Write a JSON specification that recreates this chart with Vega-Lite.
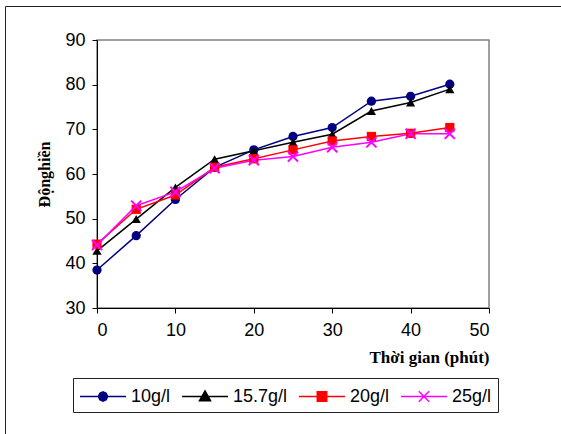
{
  "$schema": "https://vega.github.io/schema/vega-lite/v6.json",
  "width": 392,
  "height": 268,
  "autosize": {"type": "none"},
  "padding": {"left": 97, "top": 40, "right": 72, "bottom": 126},
  "background": "white",
  "data": {
    "values": [
      {"t": 0, "v": 38.5, "s": "10g/l"},
      {"t": 5, "v": 46.2, "s": "10g/l"},
      {"t": 10, "v": 54.3, "s": "10g/l"},
      {"t": 15, "v": 61.5, "s": "10g/l"},
      {"t": 20, "v": 65.4, "s": "10g/l"},
      {"t": 25, "v": 68.4, "s": "10g/l"},
      {"t": 30, "v": 70.4, "s": "10g/l"},
      {"t": 35, "v": 76.3, "s": "10g/l"},
      {"t": 40, "v": 77.4, "s": "10g/l"},
      {"t": 45, "v": 80.1, "s": "10g/l"},
      {"t": 0, "v": 42.8, "s": "15.7g/l"},
      {"t": 5, "v": 49.9, "s": "15.7g/l"},
      {"t": 10, "v": 57.0, "s": "15.7g/l"},
      {"t": 15, "v": 63.3, "s": "15.7g/l"},
      {"t": 20, "v": 65.2, "s": "15.7g/l"},
      {"t": 25, "v": 67.1, "s": "15.7g/l"},
      {"t": 30, "v": 68.9, "s": "15.7g/l"},
      {"t": 35, "v": 74.1, "s": "15.7g/l"},
      {"t": 40, "v": 76.0, "s": "15.7g/l"},
      {"t": 45, "v": 79.0, "s": "15.7g/l"},
      {"t": 0, "v": 44.3, "s": "20g/l"},
      {"t": 5, "v": 52.1, "s": "20g/l"},
      {"t": 10, "v": 55.3, "s": "20g/l"},
      {"t": 15, "v": 61.5, "s": "20g/l"},
      {"t": 20, "v": 63.4, "s": "20g/l"},
      {"t": 25, "v": 65.4, "s": "20g/l"},
      {"t": 30, "v": 67.4, "s": "20g/l"},
      {"t": 35, "v": 68.4, "s": "20g/l"},
      {"t": 40, "v": 69.1, "s": "20g/l"},
      {"t": 45, "v": 70.4, "s": "20g/l"},
      {"t": 0, "v": 44.1, "s": "25g/l"},
      {"t": 5, "v": 52.9, "s": "25g/l"},
      {"t": 10, "v": 56.0, "s": "25g/l"},
      {"t": 15, "v": 61.3, "s": "25g/l"},
      {"t": 20, "v": 63.1, "s": "25g/l"},
      {"t": 25, "v": 63.9, "s": "25g/l"},
      {"t": 30, "v": 66.0, "s": "25g/l"},
      {"t": 35, "v": 67.1, "s": "25g/l"},
      {"t": 40, "v": 69.0, "s": "25g/l"},
      {"t": 45, "v": 69.0, "s": "25g/l"}
    ]
  },
  "encoding": {
    "x": {
      "field": "t", "type": "quantitative",
      "scale": {"domain": [0, 50], "nice": false, "zero": false},
      "axis": {
        "title": "Thời gian (phút)", "values": [0, 10, 20, 30, 40, 50],
        "grid": false, "domainColor": "black", "tickColor": "black", "tickSize": 5,
        "labelFont": "Liberation Sans", "labelFontSize": 18, "labelColor": "black", "labelPadding": 8,
        "titleFont": "Liberation Serif", "titleFontSize": 17, "titleFontWeight": "bold", "titleColor": "black",
        "titleAnchor": "end", "titlePadding": 10
      }
    },
    "y": {
      "field": "v", "type": "quantitative",
      "scale": {"domain": [30, 90], "nice": false, "zero": false},
      "axis": {
        "title": "Độnghiền", "values": [30, 40, 50, 60, 70, 80, 90],
        "grid": false, "domainColor": "black", "tickColor": "black", "tickSize": 5,
        "labelFont": "Liberation Sans", "labelFontSize": 18, "labelColor": "black", "labelPadding": 7,
        "titleFont": "Liberation Serif", "titleFontSize": 16, "titleFontWeight": "bold", "titleColor": "black",
        "titlePadding": 12
      }
    },
    "color": {
      "field": "s", "type": "nominal",
      "scale": {"domain": ["10g/l", "15.7g/l", "20g/l", "25g/l"], "range": ["#000080", "#000000", "#FF0000", "#FF00FF"]},
      "legend": {
        "title": null, "orient": "none", "legendX": -24, "legendY": 338,
        "direction": "horizontal", "columns": 4, "gridAlign": "none",
        "symbolSize": 529, "labelOffset": 27, "columnPadding": 8,
        "labelFont": "Liberation Sans", "labelFontSize": 18, "labelColor": "black",
        "strokeColor": "#222222", "fillColor": "white", "padding": 6,
        "symbolStrokeWidth": 1.5,
        "encode": {
          "legend": {
            "update": {
              "width": {"value": 415}
            }
          },
          "symbols": {
            "update": {
              "shape": {"signal": "datum.value === '10g/l' ? 'M-1,0H3M0.6,0L0.72,-0.28L1,-0.4L1.28,-0.28L1.4,0L1.28,0.28L1,0.4L0.72,0.28Z' : datum.value === '15.7g/l' ? 'M-1,0H3M1,-0.48L1.48,0.38L0.52,0.38Z' : datum.value === '20g/l' ? 'M-1,0H3M0.59,-0.41H1.41V0.41H0.59Z' : 'M-1,0H3M0.55,-0.45L1.45,0.45M0.55,0.45L1.45,-0.45'"},
              "fill": {"signal": "scale('color', datum.value)"},
              "stroke": {"signal": "scale('color', datum.value)"},
              "strokeWidth": {"value": 1.5},
              "opacity": {"value": 1}
            }
          }
        }
      }
    }
  },
  "layer": [
    {"mark": {"type": "line", "strokeWidth": 1.5}},
    {
      "transform": [{"filter": "datum.s === '10g/l'"}],
      "mark": {"type": "point", "shape": "circle", "filled": true, "opacity": 1, "size": 85}
    },
    {
      "transform": [{"filter": "datum.s === '15.7g/l'"}],
      "mark": {"type": "point", "shape": "triangle-up", "filled": true, "opacity": 1, "size": 85}
    },
    {
      "transform": [{"filter": "datum.s === '20g/l'"}],
      "mark": {"type": "point", "shape": "square", "filled": true, "opacity": 1, "size": 85}
    },
    {
      "transform": [{"filter": "datum.s === '25g/l'"}],
      "mark": {"type": "point", "shape": "M-1.1,-1.1L1.1,1.1M-1.1,1.1L1.1,-1.1", "filled": false, "opacity": 1, "size": 85, "strokeWidth": 2}
    },
    {
      "transform": [{"filter": "datum.s === '25g/l'"}],
      "mark": {"type": "point", "opacity": 0},
      "encoding": {
        "color": {"value": "transparent"},
        "shape": {
          "datum": "frame", "type": "nominal",
          "scale": {"domain": ["frame"], "range": ["square"]},
          "legend": {
            "title": null, "orient": "none", "legendX": -92, "legendY": -34,
            "symbolSize": 422500, "symbolOpacity": 0, "symbolStrokeColor": "transparent", "symbolFillColor": "transparent",
            "labelExpr": "''", "labelFontSize": 1, "padding": 0, "labelOffset": 0,
            "strokeColor": "#222222", "fillColor": "transparent"
          }
        }
      }
    }
  ],
  "config": {
    "view": {"stroke": "#808080", "strokeWidth": 1.5},
    "axis": {"domainWidth": 1, "tickWidth": 1}
  }
}
